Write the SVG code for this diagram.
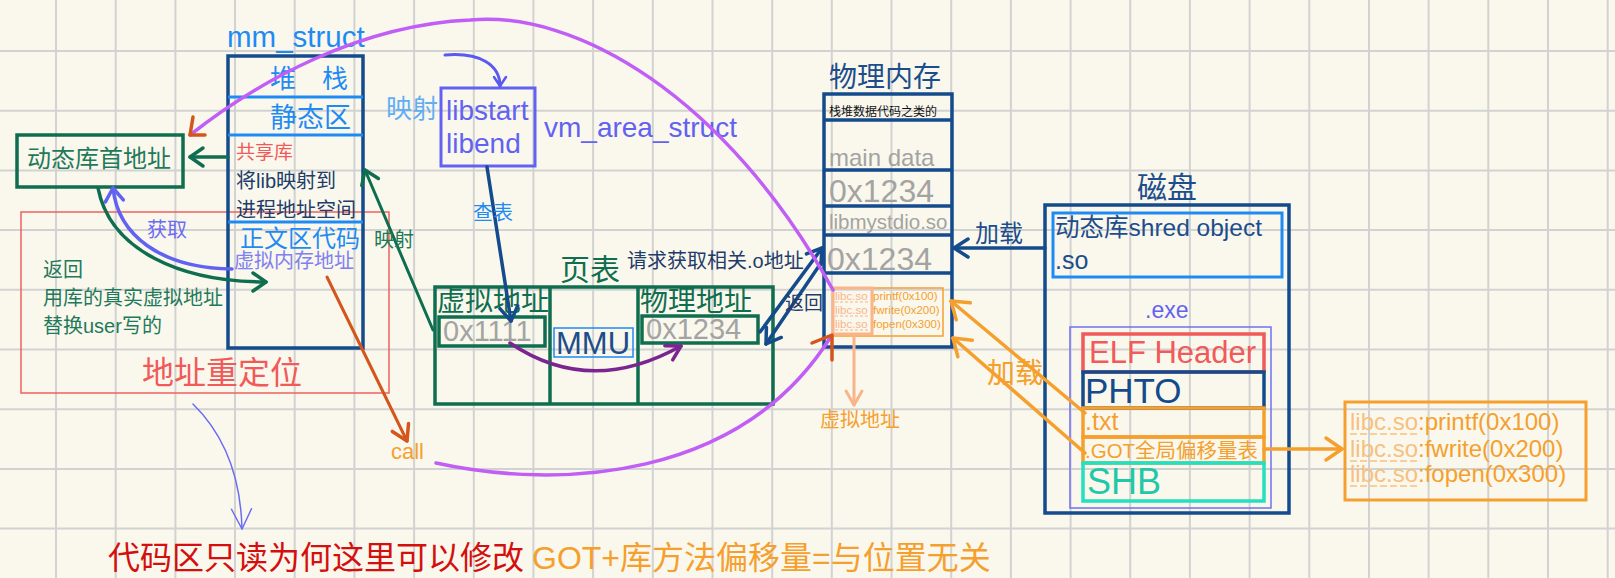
<svg xmlns="http://www.w3.org/2000/svg" width="1615" height="578" viewBox="0 0 1615 578">
<style>
text{font-family:"Liberation Sans","Noto Sans CJK SC",sans-serif}
.box{fill:none;stroke-linejoin:miter}
.navy{stroke:#144b8d;stroke-width:3.5}
.lb{stroke:#1e8bf5;stroke-width:3}
.gr{stroke:#0f6e50;stroke-width:3.5}
.ln{fill:none;stroke-linecap:round;stroke-linejoin:round}
.gray{fill:#a3a3a3}
</style>
<defs>
<marker id="aGreen" markerUnits="userSpaceOnUse" orient="auto" refX="0" refY="0" overflow="visible"><path d="M-13,-9 L0,0 L-13,9" fill="none" stroke="#0f6e50" stroke-width="3.5" stroke-linecap="round" stroke-linejoin="round"/></marker>
<marker id="aIndigo" markerUnits="userSpaceOnUse" orient="auto" refX="0" refY="0" overflow="visible"><path d="M-13,-9 L0,0 L-13,9" fill="none" stroke="#6262f2" stroke-width="3.5" stroke-linecap="round" stroke-linejoin="round"/></marker>
<marker id="aIndigoS" markerUnits="userSpaceOnUse" orient="auto" refX="0" refY="0" overflow="visible"><path d="M-9,-6 L0,0 L-9,6" fill="none" stroke="#5a5af0" stroke-width="2.5" stroke-linecap="round" stroke-linejoin="round"/></marker>
<marker id="aThin" markerUnits="userSpaceOnUse" orient="auto" refX="0" refY="0" overflow="visible"><path d="M-20,-10 L0,0 L-20,10" fill="none" stroke="#6b6bf5" stroke-width="1.5" stroke-linecap="round" stroke-linejoin="round"/></marker>
<marker id="aNavy" markerUnits="userSpaceOnUse" orient="auto" refX="0" refY="0" overflow="visible"><path d="M-14,-9 L0,0 L-14,9" fill="none" stroke="#144b8d" stroke-width="3.5" stroke-linecap="round" stroke-linejoin="round"/></marker>
<marker id="aOrRed" markerUnits="userSpaceOnUse" orient="auto" refX="0" refY="0" overflow="visible"><path d="M-15,-9 L0,0 L-15,9" fill="none" stroke="#d4561c" stroke-width="3.5" stroke-linecap="round" stroke-linejoin="round"/></marker>
<marker id="aOrange" markerUnits="userSpaceOnUse" orient="auto" refX="0" refY="0" overflow="visible"><path d="M-16,-11 L0,0 L-16,11" fill="none" stroke="#f5a02e" stroke-width="3.5" stroke-linecap="round" stroke-linejoin="round"/></marker>
<marker id="aSalmon" markerUnits="userSpaceOnUse" orient="auto" refX="0" refY="0" overflow="visible"><path d="M-14,-8 L0,0 L-14,8" fill="none" stroke="#f8b48a" stroke-width="3" stroke-linecap="round" stroke-linejoin="round"/></marker>
<marker id="aPurple" markerUnits="userSpaceOnUse" orient="auto" refX="0" refY="0" overflow="visible"><path d="M-14,-8 L0,0 L-14,8" fill="none" stroke="#7a2590" stroke-width="3.5" stroke-linecap="round" stroke-linejoin="round"/></marker>
</defs>
<rect x="0" y="0" width="1615" height="578" fill="#faf8ec"/>
<path id="grid" fill="none" stroke="#d2d2d2" stroke-width="2" d="M56,0V578M115.7,0V578M175.4,0V578M235,0V578M294.7,0V578M354.4,0V578M414.1,0V578M473.8,0V578M533.4,0V578M593.1,0V578M652.8,0V578M712.5,0V578M772.2,0V578M831.8,0V578M891.5,0V578M951.2,0V578M1010.9,0V578M1070.6,0V578M1130.2,0V578M1189.9,0V578M1249.6,0V578M1309.3,0V578M1369,0V578M1428.6,0V578M1488.3,0V578M1548,0V578M1607.7,0V578M0,51H1615M0,110.7H1615M0,170.4H1615M0,230.1H1615M0,289.8H1615M0,349.5H1615M0,409.2H1615M0,468.9H1615M0,528.6H1615"/>

<g id="relocation">
<rect x="21" y="212" width="368" height="181" fill="none" stroke="#f06060" stroke-width="1.5"/>
<text x="142" y="384" font-size="32" fill="#f25a5a">地址重定位</text>
<text x="43" y="277" font-size="20" fill="#1f7a5c">返回</text>
<text x="43" y="305" font-size="20" fill="#1f7a5c">用库的真实虚拟地址</text>
<text x="43" y="333" font-size="20" fill="#1f7a5c">替换user写的</text>
</g>

<g id="mm_struct">
<text x="227" y="47" font-size="29.5" fill="#1e8bf5">mm_struct</text>
<rect class="box navy" x="228" y="56" width="135" height="292"/>
<path class="lb" d="M228,97H363M228,135H363M228,222H363" fill="none"/>
<text x="270" y="88" font-size="26" fill="#1e8bf5">堆　栈</text>
<text x="270" y="127" font-size="27" fill="#1e8bf5">静态区</text>
<text x="236" y="159" font-size="19" fill="#f05a5a">共享库</text>
<text x="236" y="188" font-size="20" fill="#203d6b">将lib映射到</text>
<text x="236" y="217" font-size="20" fill="#203d6b">进程地址空间</text>
<text x="240" y="247" font-size="24" fill="#1e8bf5">正文区代码</text>
<text x="234" y="268" font-size="20" fill="#8080f0">虚拟内存地址</text>
</g>

<g id="dynlib_addr">
<rect class="box gr" x="17" y="135" width="166" height="52"/>
<text x="27" y="167" font-size="24" fill="#1f7a5c">动态库首地址</text>
</g>

<g id="vm_area_struct">
<rect class="box" x="441" y="88" width="94" height="78" stroke="#6262f2" stroke-width="3"/>
<text x="446" y="120" font-size="28" fill="#6262f2">libstart</text>
<text x="446" y="153" font-size="28" fill="#6262f2">libend</text>
<text x="544" y="137" font-size="28" fill="#6262f2">vm_area_struct</text>
<text x="386" y="118" font-size="26" fill="#62aef5">映射</text>
</g>

<g id="page_table">
<text x="560" y="280" font-size="30" fill="#0f6e50">页表</text>
<rect class="box gr" x="435" y="287" width="338" height="117"/>
<path class="gr" d="M550,287V404M638,287V404" fill="none"/>
<text x="437" y="311" font-size="28" fill="#0f6e50">虚拟地址</text>
<text x="640" y="311" font-size="28" fill="#0f6e50">物理地址</text>
<rect class="box gr" x="439" y="317" width="106" height="29"/>
<text class="gray" x="443" y="341" font-size="29">0x1111</text>
<rect class="box gr" x="642" y="316" width="116" height="27"/>
<text class="gray" x="646" y="339" font-size="29">0x1234</text>
<rect class="box" x="554" y="328" width="79" height="29" stroke="#1e8bf5" stroke-width="1.5"/>
<text x="556" y="354" font-size="31" fill="#1c4d8c">MMU</text>
</g>

<g id="physical_memory">
<text x="829" y="87" font-size="28" fill="#1c4d8c">物理内存</text>
<rect class="box navy" x="824" y="94" width="128" height="253"/>
<path class="navy" d="M824,120H952M824,170H952M824,206H952M824,235H952M824,273H952" fill="none"/>
<text x="829" y="116" font-size="12" fill="#111">栈堆数据代码之类的</text>
<text class="gray" x="829" y="166" font-size="24">main data</text>
<text class="gray" x="829" y="202" font-size="32">0x1234</text>
<text class="gray" x="829" y="229" font-size="20.5">libmystdio.so</text>
<text class="gray" x="827" y="270" font-size="32">0x1234</text>
<rect class="box" x="833" y="288" width="110" height="48" stroke="#f5a02e" stroke-width="1.5"/>
<rect class="box" x="833" y="288" width="39" height="46" stroke="#f8b48a" stroke-width="3"/>
<g font-size="11.5" fill="#f8b48a">
<text x="835" y="300">libc.so</text>
<text x="835" y="314">libc.so</text>
<text x="835" y="328">libc.so</text>
</g>
<path d="M835,302H868M835,316H868M835,330H868" stroke="#f8b48a" stroke-width="1" stroke-dasharray="3 2" fill="none"/>
<g font-size="11.5" fill="#f5a02e">
<text x="873" y="300">printf(0x100)</text>
<text x="873" y="314">fwrite(0x200)</text>
<text x="873" y="328">fopen(0x300)</text>
</g>
<text x="820" y="427" font-size="20" fill="#f5a02e">虚拟地址</text>
</g>

<g id="disk">
<text x="1137" y="198" font-size="30" fill="#1c4d8c">磁盘</text>
<rect class="box navy" x="1045" y="205" width="244" height="308"/>
<rect class="box lb" x="1053" y="213" width="229" height="64"/>
<text x="1055" y="236" font-size="24.5" fill="#1c4d8c">动态库shred object</text>
<text x="1055" y="269" font-size="25" fill="#1c4d8c">.so</text>
<text x="1145" y="318" font-size="23" fill="#6262f2">.exe</text>
<rect class="box" x="1070" y="327" width="201" height="181" stroke="#7070f5" stroke-width="1.5"/>
<rect class="box" x="1083" y="334" width="181" height="38" stroke="#f05a5a" stroke-width="3.5"/>
<text x="1089" y="363" font-size="31" fill="#f05a5a">ELF Header</text>
<rect class="box navy" x="1083" y="372" width="181" height="36"/>
<text x="1085" y="403" font-size="35" fill="#144b8d">PHTO</text>
<rect class="box" x="1083" y="408" width="181" height="29" stroke="#f5a02e" stroke-width="3.5"/>
<text x="1085" y="430" font-size="25" fill="#f5a02e">.txt</text>
<rect class="box" x="1083" y="437" width="181" height="26" stroke="#f5a02e" stroke-width="3.5"/>
<text x="1085" y="458" font-size="20.5" fill="#f5a02e">.GOT全局偏移量表</text>
<rect class="box" x="1083" y="463" width="181" height="38" stroke="#22e0c0" stroke-width="3.5"/>
<text x="1087" y="494" font-size="36" fill="#1fc8a8">SHB</text>
</g>

<g id="got_table">
<rect class="box" x="1345" y="402" width="241" height="98" stroke="#f5a02e" stroke-width="3"/>
<g font-size="24">
<text x="1350" y="430"><tspan fill="#f7c080">libc.so</tspan><tspan fill="#f5a02e">:printf(0x100)</tspan></text>
<text x="1350" y="457"><tspan fill="#f7c080">libc.so</tspan><tspan fill="#f5a02e">:fwrite(0x200)</tspan></text>
<text x="1350" y="482"><tspan fill="#f7c080">libc.so</tspan><tspan fill="#f5a02e">:fopen(0x300)</tspan></text>
</g>
<path d="M1350,434H1418M1350,461H1418M1350,486H1418" stroke="#f7c080" stroke-width="1.5" stroke-dasharray="7 3" fill="none"/>
</g>

<g id="notes">
<text x="108" y="569" font-size="32"><tspan fill="#d40f0f">代码区只读为何这里可以修改</tspan><tspan fill="#f5a02e" dx="8">GOT+库方法偏移量=与位置无关</tspan></text>
<text x="391" y="459" font-size="22" fill="#f5a02e">call</text>
</g>

<g id="connectors">
<path class="ln" d="M228,157H190" stroke="#0f6e50" stroke-width="3.5" marker-end="url(#aGreen)"/>
<path class="ln" d="M98,188 C110,250 180,282 266,282" stroke="#0f6e50" stroke-width="3.5" marker-end="url(#aGreen)"/>
<path class="ln" d="M232,269 C160,268 118,235 113,188" stroke="#6262f2" stroke-width="3.5" marker-end="url(#aIndigo)"/>
<text x="147" y="237" font-size="20" fill="#6b6bf5">获取</text>
<path class="ln" d="M433,330 L365,170" stroke="#0f6e50" stroke-width="3" marker-end="url(#aGreen)"/>
<text x="374" y="247" font-size="20" fill="#1f7a5c">映射</text>
<path class="ln" d="M445,55 C480,52 500,65 500,86" stroke="#5a5af0" stroke-width="3" marker-end="url(#aIndigoS)"/>
<path class="ln" d="M487,167 L511,321" stroke="#144b8d" stroke-width="3.5" marker-end="url(#aNavy)"/>
<text x="473" y="220" font-size="20" fill="#1e8bf5">查表</text>
<path class="ln" d="M510,343 Q590,397 681,346" stroke="#7a2590" stroke-width="3.5" marker-end="url(#aPurple)"/>
<path class="ln" d="M327,277 L407,441" stroke="#d4561c" stroke-width="3" marker-end="url(#aOrRed)"/>
<path class="ln" d="M760,332 L822,248" stroke="#144b8d" stroke-width="3.5" marker-end="url(#aNavy)"/>
<path class="ln" d="M823,260 L766,344" stroke="#144b8d" stroke-width="3.5" marker-end="url(#aNavy)"/>
<text x="627" y="268" font-size="20" fill="#1f3c6b">请求获取相关.o地址</text>
<text x="785" y="310" font-size="19" fill="#1f3c6b">返回</text>
<path class="ln" d="M1045,248 L954,248" stroke="#144b8d" stroke-width="3.5" marker-end="url(#aNavy)"/>
<text x="975" y="242" font-size="24" fill="#1c4d8c">加载</text>
<path class="ln" d="M854,336 L854,405" stroke="#f8b48a" stroke-width="3" marker-end="url(#aSalmon)"/>
<path class="ln" d="M1085,413 L951,301" stroke="#f5a02e" stroke-width="3.5" marker-end="url(#aOrange)"/>
<path class="ln" d="M1085,453 L953,338" stroke="#f5a02e" stroke-width="3.5" marker-end="url(#aOrange)"/>
<text x="987" y="383" font-size="28" fill="#f5a02e">加载</text>
<path class="ln" d="M1264,449 L1342,449" stroke="#f5a02e" stroke-width="3.5" marker-end="url(#aOrange)"/>
<path class="ln" d="M833,290 C725,95 575,10 470,20 C360,25 260,80 190,135" stroke="#c05ef5" stroke-width="3.5"/>
<path class="ln" d="M193,117 L190,135 L205,135" stroke="#d4561c" stroke-width="3.5"/>
<path class="ln" d="M436,463 C560,490 740,480 830,338" stroke="#c05ef5" stroke-width="3.5"/>
<path class="ln" d="M812,343 L832,335 L832,360" stroke="#d4561c" stroke-width="3.5"/>
<path class="ln" d="M193,404 Q240,450 242,529" stroke="#6b6bf5" stroke-width="1.5" marker-end="url(#aThin)"/>
</g>
</svg>
